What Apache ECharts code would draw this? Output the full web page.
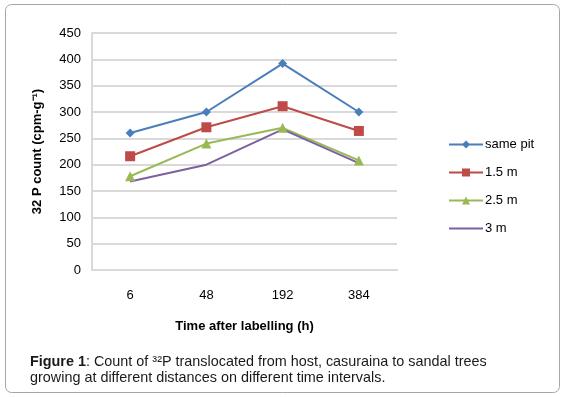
<!DOCTYPE html>
<html>
<head>
<meta charset="utf-8">
<script src="https://cdn.jsdelivr.net/npm/echarts@6/dist/echarts.min.js"></script>
<style>
  html, body { margin: 0; padding: 0; background: #fff; }
  #chart { width: 565px; height: 397px; }
</style>
</head>
<body>
<div id="chart"></div>
<script>
// time after labelling (h)
const hours = ['6', '48', '192', '384'];
const samePit = [260, 300, 392, 300];
const m15 = [216, 271, 311, 264];
const m25 = [178, 240, 270, 208];
const m3 = [168, 200, 267, 203];

const font = 'Liberation Sans, Arial, sans-serif';

const myChart = echarts.init(document.getElementById('chart'));

function line(name, data, color, symbol, size) {
  return {
    name: name,
    type: 'line',
    data: data,
    symbol: symbol,
    symbolSize: size,
    showSymbol: size > 0,
    lineStyle: { color: color, width: 2 },
    itemStyle: { color: color },
    emphasis: { disabled: true }
  };
}

const option = {
  animation: false,
  grid: { left: 92, right: 168, top: 33, bottom: 127 },
  legend: {
    orient: 'vertical',
    left: 443,
    top: 133,
    itemWidth: 34,
    itemHeight: 10,
    itemGap: 15,
    textStyle: { fontFamily: font, fontSize: 13, color: '#000', padding: [0, 0, 0, -3] },
    data: [
      'same pit', '1.5 m', '2.5 m',
      { name: '3 m', itemStyle: { color: 'transparent', borderColor: 'transparent' } }
    ]
  },
  xAxis: {
    type: 'category',
    data: hours,
    name: 'Time after labelling (h)',
    nameLocation: 'middle',
    nameGap: 50,
    nameTextStyle: { fontFamily: font, fontWeight: 'bold', fontSize: 13, color: '#000' },
    axisLine: { lineStyle: { color: '#d9d9d9', width: 2 } },
    axisTick: { length: 4, lineStyle: { color: '#d9d9d9', width: 2 } },
    axisLabel: { margin: 19, fontFamily: font, fontSize: 13, color: '#000' }
  },
  yAxis: {
    type: 'value',
    min: 0,
    max: 450,
    interval: 50,
    name: '32 P count (cpm-g\u207B\u00B9)',
    nameLocation: 'middle',
    nameGap: 48,
    nameMoveOverlap: false,
    nameTextStyle: { fontFamily: font, fontWeight: 'bold', fontSize: 13, color: '#000' },
    axisLine: { show: true, lineStyle: { color: '#d9d9d9', width: 2 } },
    axisLabel: { margin: 11, fontFamily: font, fontSize: 13, color: '#000' },
    splitLine: { lineStyle: { color: '#d9d9d9', width: 2 } }
  },
  series: [
    line('same pit', samePit, '#4a7ebb', 'diamond', 9),
    line('1.5 m', m15, '#be4b48', 'rect', 10),
    line('2.5 m', m25, '#98b954', 'triangle', 10),
    line('3 m', m3, '#7d60a0', 'circle', 0)
  ],
  graphic: [
    {
      type: 'rect',
      shape: { x: 5.5, y: 4.5, width: 554, height: 388, r: 6 },
      style: { fill: 'none', stroke: '#a6a6a6', lineWidth: 1 },
      silent: true
    },
    {
      type: 'text',
      left: 30,
      top: 354,
      style: {
        text: '{b|Figure 1}: Count of \u00B3\u00B2P translocated from host, casuraina to sandal trees\ngrowing at different distances on different time intervals.',
        font: '14.4px ' + font,
        fill: '#1a1a1a',
        lineHeight: 16,
        rich: {
          b: { fontWeight: 'bold', fontSize: 14.4, fontFamily: font, fill: '#1a1a1a' }
        }
      }
    }
  ]
};

myChart.setOption(option);
</script>
</body>
</html>
